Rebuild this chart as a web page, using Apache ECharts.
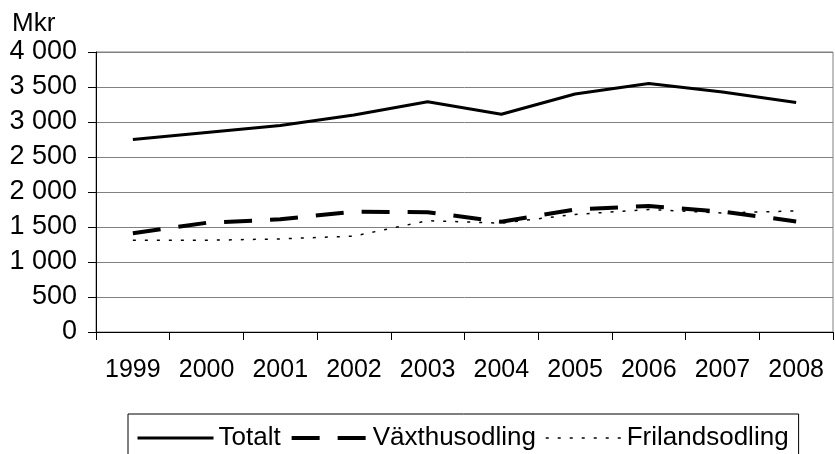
<!DOCTYPE html>
<html>
<head>
<meta charset="utf-8">
<script src="https://cdn.jsdelivr.net/npm/echarts@6/dist/echarts.min.js"></script>
<style>
html,body{margin:0;padding:0;background:#fff;}
#c{width:835px;height:454px;}
</style>
</head>
<body>
<div id="c"></div>
<script>
const years = ['1999','2000','2001','2002','2003','2004','2005','2006','2007','2008'];
const totalt = [2750, 2850, 2950, 3100, 3290, 3110, 3400, 3550, 3430, 3280];
const vaxthus = [1410, 1560, 1610, 1720, 1710, 1575, 1750, 1800, 1720, 1580];
const friland = [1310, 1310, 1330, 1370, 1590, 1555, 1680, 1750, 1700, 1730];
const yTickValues = [0, 500, 1000, 1500, 2000, 2500, 3000, 3500, 4000];
const yTickLabels = ['0', '500', '1 000', '1 500', '2 000', '2 500', '3 000', '3 500', '4 000'];
const seriesNames = ['Totalt', 'Växthusodling', 'Frilandsodling'];
const yUnit = 'Mkr';

const FONT = "'Liberation Sans', Arial, sans-serif";
const chart = echarts.init(document.getElementById('c'), null, {renderer: 'canvas'});
chart.setOption({
  animation: false,
  backgroundColor: '#fff',
  graphic: [{
    type: 'text', left: 12, top: 11,
    style: {text: yUnit, fontFamily: FONT, fontSize: 26, fill: '#000'}
  }],
  grid: {left: 96, right: 2, top: 52, bottom: 122, show: true, borderColor: '#808080', borderWidth: 1},
  legend: {
    left: 128, top: 414,
    padding: [11, 10, 30, 8],
    borderColor: '#000', borderWidth: 1,
    itemWidth: 76, itemHeight: 14, itemGap: 9,
    itemStyle: {opacity: 0},
    lineStyle: {width: 'inherit', type: 'inherit'},
    textStyle: {fontFamily: FONT, fontSize: 26, color: '#000', padding: [0, 0, 0, 0]},
    data: seriesNames
  },
  xAxis: {
    type: 'category', data: years, boundaryGap: true,
    axisLine: {lineStyle: {color: '#000', width: 1}},
    axisTick: {show: true, length: 8, inside: false, interval: 0, lineStyle: {color: '#000'}},
    axisLabel: {interval: 0, margin: 26, fontFamily: FONT, fontSize: 25, color: '#000'},
    splitLine: {show: false}
  },
  yAxis: {
    type: 'value', min: 0, max: 4000, interval: 500,
    axisLine: {show: true, lineStyle: {color: '#000', width: 1}},
    axisTick: {show: true, length: 8, lineStyle: {color: '#000'}},
    axisLabel: {margin: 19, fontFamily: FONT, fontSize: 27, color: '#000',
      formatter: v => yTickLabels[yTickValues.indexOf(v)]},
    splitLine: {show: true, lineStyle: {color: '#808080', width: 1}}
  },
  series: [
    {name: seriesNames[0], type: 'line', data: totalt, symbol: 'none',
      lineStyle: {color: '#000', width: 3}, itemStyle: {color: '#000'}},
    {name: seriesNames[1], type: 'line', data: vaxthus, symbol: 'none',
      lineStyle: {color: '#000', width: 4, type: [28, 18]}, itemStyle: {color: '#000'}},
    {name: seriesNames[2], type: 'line', data: friland, symbol: 'none',
      lineStyle: {color: '#000', width: 1.5, type: [3, 9]}, itemStyle: {color: '#000'}}
  ]
});
</script>
</body>
</html>
